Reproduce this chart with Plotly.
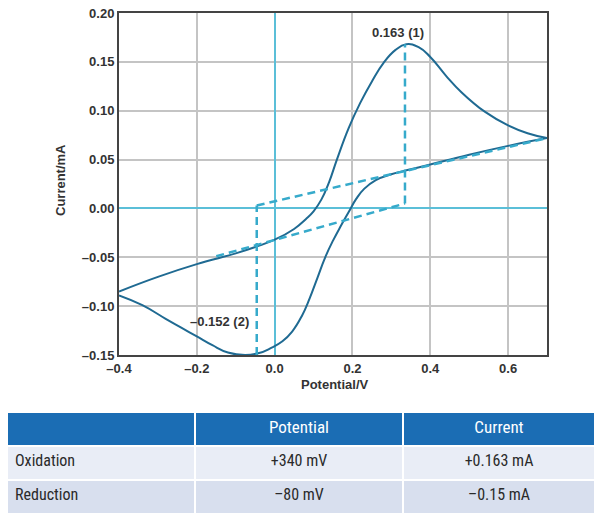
import plotly.graph_objects as go

# ---- data ----
fwd_x = [-0.4, -0.3, -0.2, -0.1, -0.05, 0.0, 0.05, 0.08, 0.10, 0.12, 0.14, 0.16, 0.19, 0.22,
         0.25, 0.28, 0.31, 0.338, 0.37, 0.40, 0.44, 0.48, 0.54, 0.60, 0.65, 0.70]
fwd_y = [-0.085, -0.070, -0.057, -0.046, -0.0395, -0.032, -0.021, -0.011, -0.003, 0.009, 0.027,
         0.05, 0.082, 0.108, 0.13, 0.149, 0.162, 0.168, 0.165, 0.155, 0.136, 0.119, 0.099, 0.085,
         0.077, 0.072]
rev_x = [0.70, 0.60, 0.50, 0.40, 0.35, 0.30, 0.26, 0.23, 0.21, 0.19, 0.17, 0.15, 0.13, 0.11,
         0.09, 0.07, 0.045, 0.02, -0.01, -0.04, -0.076, -0.12, -0.16, -0.2, -0.24, -0.28, -0.34, -0.4]
rev_y = [0.072, 0.064, 0.055, 0.045, 0.040, 0.035, 0.029, 0.020, 0.010, -0.004, -0.018, -0.033,
         -0.05, -0.071, -0.092, -0.11, -0.126, -0.136, -0.143, -0.148, -0.150, -0.1475, -0.140,
         -0.131, -0.122, -0.113, -0.099, -0.089]

ox_peak_x = [0.335, 0.335]
ox_peak_y = [0.005, 0.168]
red_peak_x = [-0.046, -0.046]
red_peak_y = [-0.150, 0.003]
upper_base_x = [-0.046, 0.70]
upper_base_y = [0.003, 0.072]
lower_base_x = [-0.15, 0.335]
lower_base_y = [-0.049, 0.005]

peak_labels = ["0.163 (1)", "\u20130.152 (2)"]
peak_label_x = [0.317, -0.143]
peak_label_y = [0.180, -0.116]

x_ticks = [-0.4, -0.2, 0.0, 0.2, 0.4, 0.6]
x_ticktext = ["\u20130.4", "\u20130.2", "0.0", "0.2", "0.4", "0.6"]
y_ticks = [-0.15, -0.10, -0.05, 0.0, 0.05, 0.10, 0.15, 0.20]
y_ticktext = ["\u20130.15", "\u20130.10", "\u20130.05", "0.00", "0.05", "0.10", "0.15", "0.20"]

table_header = ["", "Potential", "Current"]
table_rows = ["Oxidation", "Reduction"]
table_potential = ["+340 mV", "\u201380 mV"]
table_current = ["+0.163 mA", "\u20130.15 mA"]

# ---- styles ----
W, H = 600, 522
curve_color = "#1f6a92"
dash_color = "#36aacb"
tick_font = dict(family="Liberation Sans, Arial, sans-serif", size=13, color="#333333", weight="bold")
tbl_font = "Liberation Sans Narrow, Roboto Condensed, Roboto, sans-serif"

fig = go.Figure()
for xs, ys in [(fwd_x, fwd_y), (rev_x, rev_y)]:
    fig.add_trace(go.Scatter(x=xs, y=ys, mode="lines",
                             line=dict(color=curve_color, width=2, shape="spline", smoothing=1.3),
                             hoverinfo="skip"))
for xs, ys in [(ox_peak_x, ox_peak_y), (red_peak_x, red_peak_y), (upper_base_x, upper_base_y), (lower_base_x, lower_base_y)]:
    fig.add_trace(go.Scatter(x=xs, y=ys, mode="lines", line=dict(color=dash_color, width=2.5, dash="8px,5px"), hoverinfo="skip"))

for t, xx, yy in zip(peak_labels, peak_label_x, peak_label_y):
    fig.add_annotation(x=xx, y=yy, xref="x", yref="y", text=t, showarrow=False,
                       xanchor="center", yanchor="middle", font=tick_font)

fig.add_annotation(x=60 / W, y=1 - 180 / H, xref="paper", yref="paper", text="Current/mA",
                   textangle=-90, showarrow=False, xanchor="center", yanchor="middle", font=tick_font)
fig.add_annotation(x=335 / W, y=1 - 384 / H, xref="paper", yref="paper", text="Potential/V",
                   showarrow=False, xanchor="center", yanchor="middle", font=tick_font)

fig.add_trace(go.Table(
    domain=dict(x=[7 / W, 595 / W], y=[1 - 515 / H, 1 - 412 / H]),
    columnwidth=[188, 208, 192],
    header=dict(values=table_header, fill_color="#1b6db4", line=dict(color="white", width=1.5),
                align="center", height=34, font=dict(family=tbl_font, size=17, color="white")),
    cells=dict(values=[table_rows, table_potential, table_current],
               fill_color=[["#e9edf6", "#d8dfee"]] * 3, line=dict(color="white", width=1.5),
               align=["left", "center", "center"], height=34,
               font=dict(family=tbl_font, size=16, color="#2a2a2a")),
))

fig.update_layout(
    width=W, height=H, margin=dict(l=0, r=0, t=0, b=0),
    paper_bgcolor="white", plot_bgcolor="white", showlegend=False,
)
fig.update_xaxes(domain=[119 / W, 547 / W], range=[-0.4, 0.7], tickvals=x_ticks, ticktext=x_ticktext,
                 tickfont=tick_font, showgrid=True, gridcolor="#c4c4c4", gridwidth=1.5,
                 zeroline=True, zerolinecolor="#5bbfd8", zerolinewidth=1.5,
                 showline=True, linecolor="#444444", linewidth=2, mirror=True, ticks="",
                 automargin=False)
fig.update_yaxes(domain=[1 - 355 / H, 1 - 13 / H], range=[-0.15, 0.20], tickvals=y_ticks, ticktext=y_ticktext,
                 tickfont=tick_font, showgrid=True, gridcolor="#c4c4c4", gridwidth=1.5,
                 zeroline=True, zerolinecolor="#5bbfd8", zerolinewidth=1.5,
                 showline=True, linecolor="#444444", linewidth=2, mirror=True, ticks="",
                 automargin=False)

fig.write_html("out.html")
